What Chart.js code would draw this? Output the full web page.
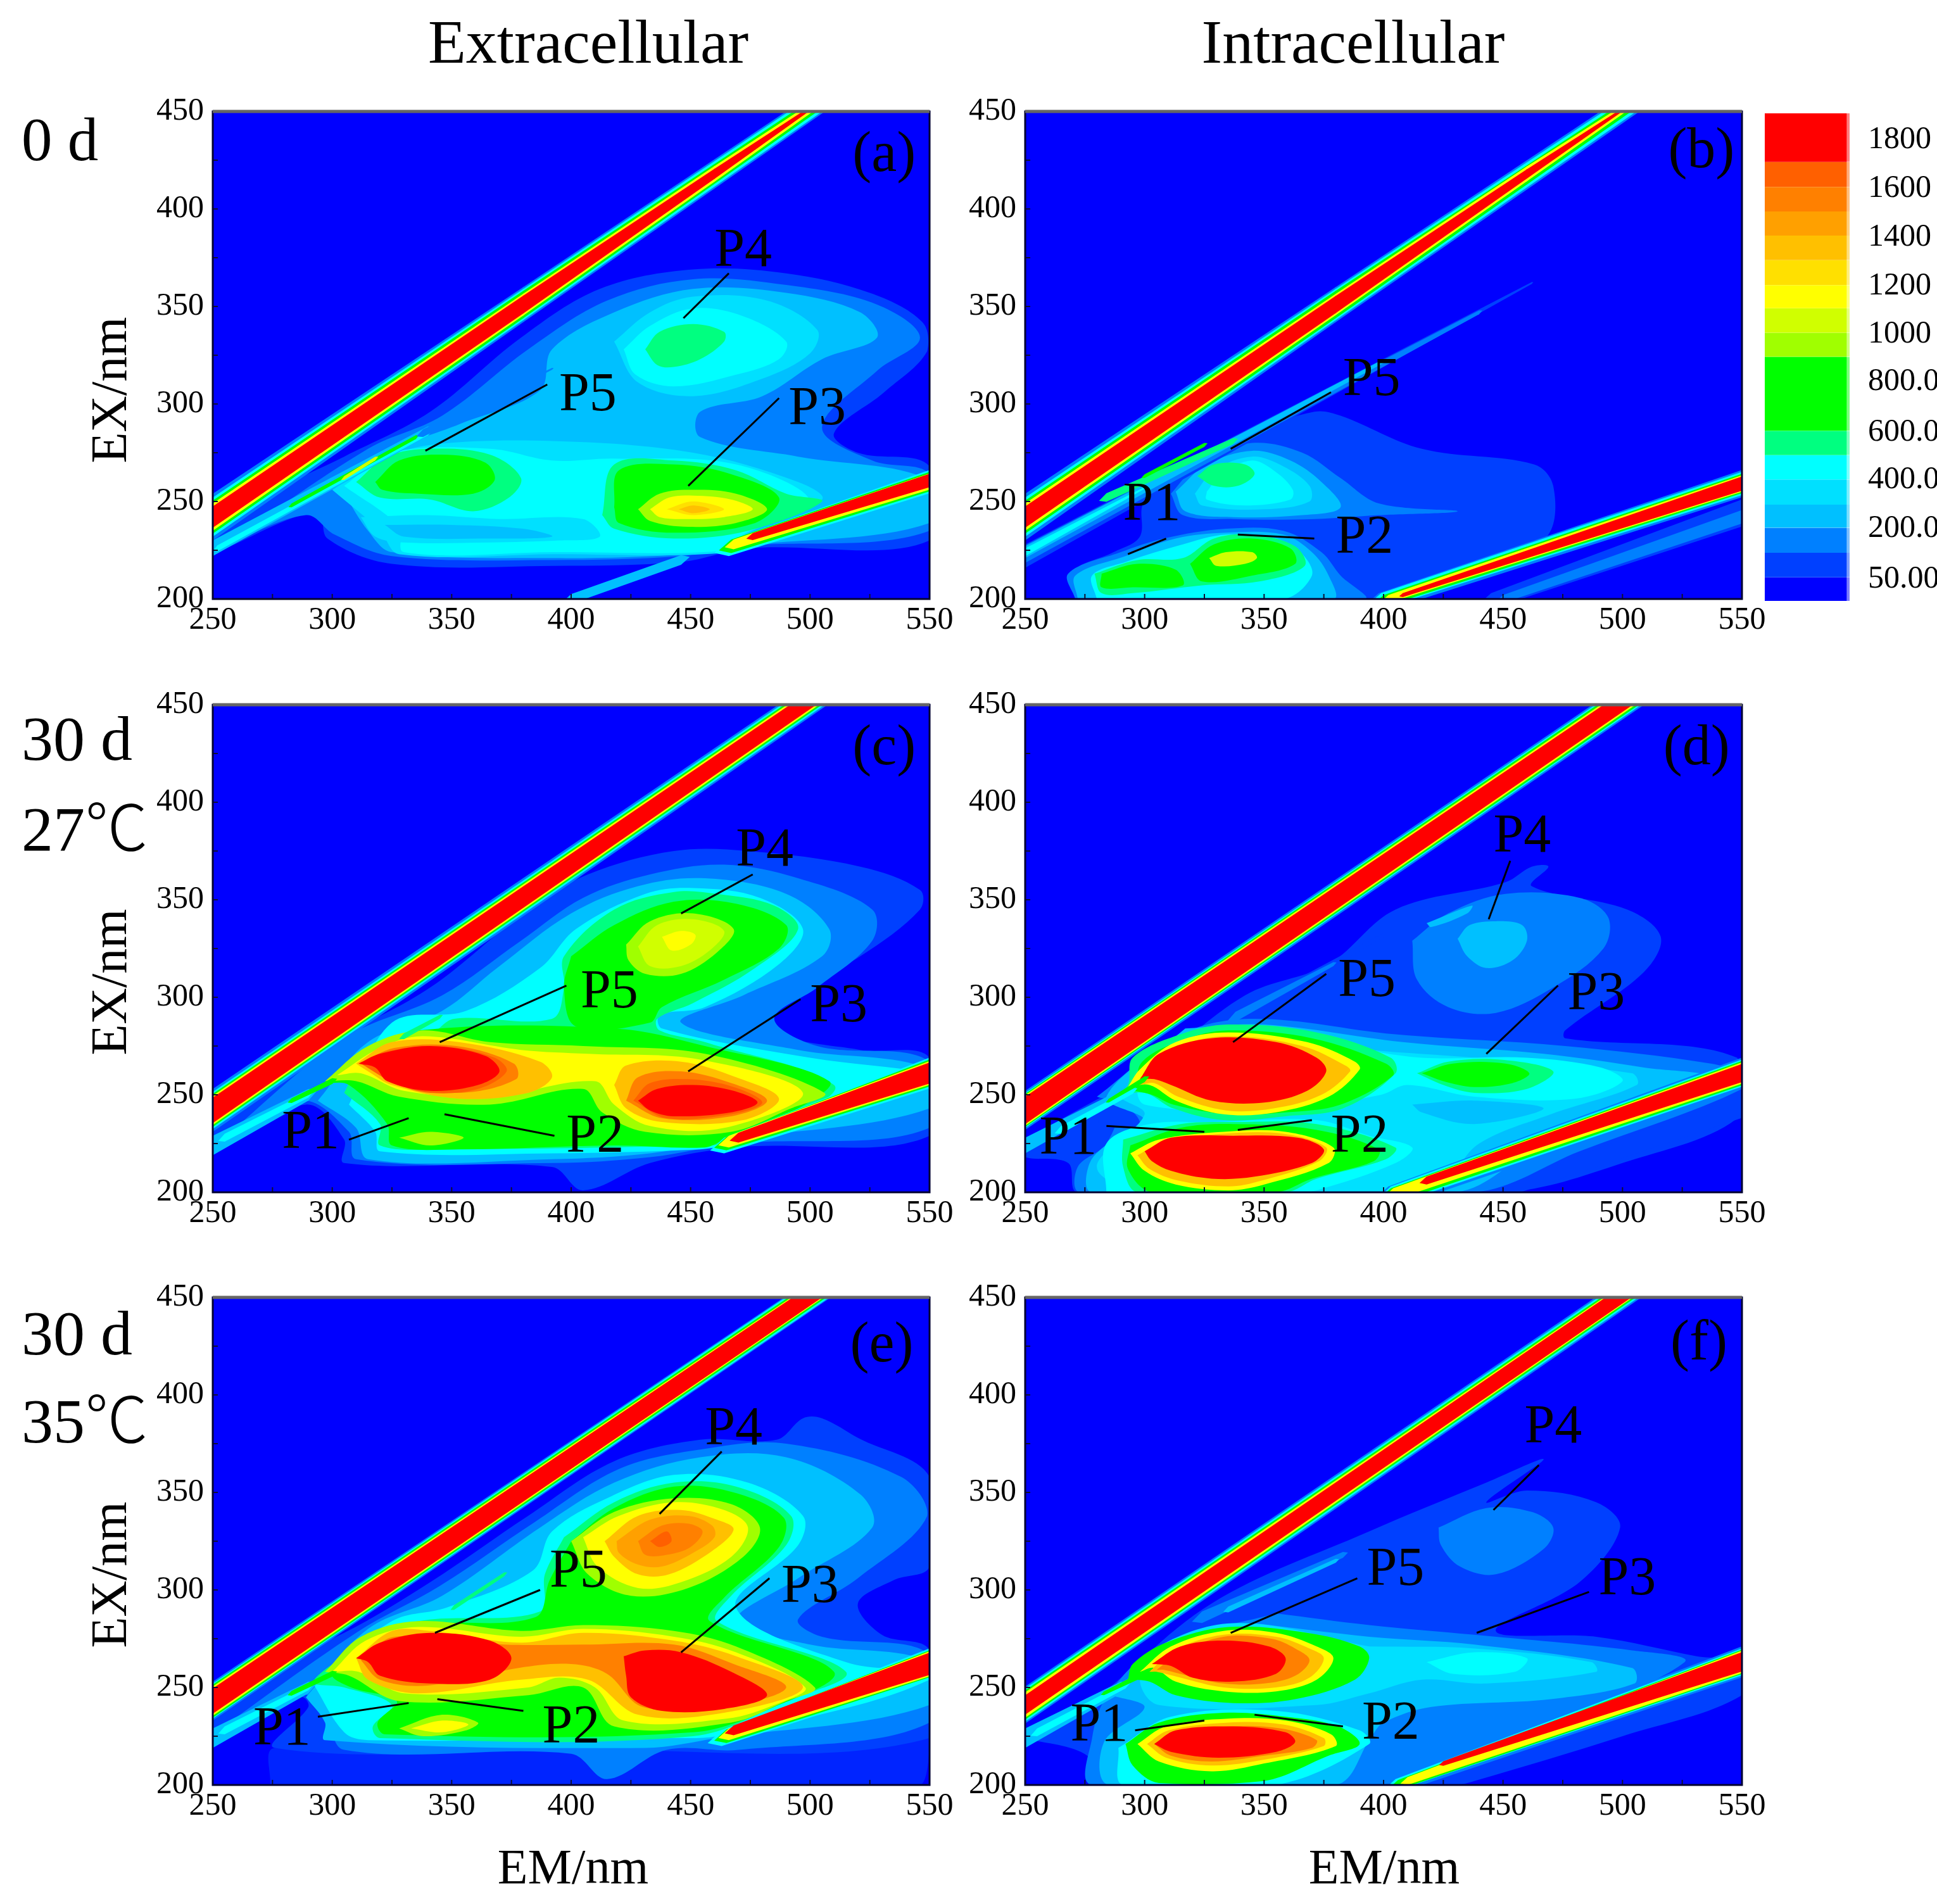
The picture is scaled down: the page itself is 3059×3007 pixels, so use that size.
<!DOCTYPE html>
<html><head><meta charset="utf-8">
<style>
html,body{margin:0;padding:0;background:#fff}
body{position:relative;width:3059px;height:3007px;overflow:hidden;font-family:"Liberation Serif",serif;color:#000}
canvas{position:absolute}
.t{position:absolute;white-space:nowrap;line-height:1}
.t span{font-family:"Noto Sans CJK SC",sans-serif;font-weight:300}
</style>
<script src="https://cdn.jsdelivr.net/npm/chart.js@4"></script>
</head><body>
<script>
// level colours, lowest (index 0) to highest (index 16); index 17 is the streaky 0-50 zone
const levelColors=['#0000ff','#0040ff','#0080ff','#00c0ff','#00e0ff','#00ffff','#00ff80','#00ff00','#a0ff00','#d0ff00','#ffff00','#ffe000','#ffc000','#ffa000','#ff8000','#ff6000','#ff0000','#0024ff'];
const axisTicksEM=[250,300,350,400,450,500,550];
const axisTicksEX=[200,250,300,350,400,450];

// colour bar
const colorbarColors=['#ff0000','#ff6000','#ff8000','#ffa000','#ffc000','#ffe000','#ffff00','#d0ff00','#a0ff00','#00ff00','#00ff80','#00ffff','#00e0ff','#00c0ff','#0080ff','#0040ff','#0000ff'];
const colorbarEdges=[1910,1710,1607,1506,1407,1306,1203,1108,1007,908,603,503,403,299,204,101,0,-97];
const colorbarTickPositions=[1800,1600,1400,1200,1000,804,596,400,200,-7];
const colorbarTickLabels=['1800','1600','1400','1200','1000','800.0','600.0','400.0','200.0','50.00'];

// contour bands: [level, em,ex, em,ex, ...], painted in order
const contoursA=[
[1,250,223,294,245,298,231,325,218,392,217,446,219,474,226,550,230,550,268,520,275,510,285,531,306,549,327,547,342,525,357,490,367,451,369,412,359,379,334,341,296,305,273,250,239],
[2,253,226,289,243,301,233,325,222,392,220,446,222,469,227,550,235,550,264,526,271,505,288,528,317,546,334,528,351,490,361,451,364,415,353,382,328,346,294,315,277],
[3,305,254,315,235,325,224,392,221,449,223,469,227,550,239,550,261,495,273,454,283,454,296,480,304,505,323,528,334,521,347,490,357,451,359,418,347,392,328,387,307,354,290,320,273],
[4,300,256,320,235,328,223,392,223,467,224,473,233,505,251,495,260,451,275,392,281,341,279,320,271],
[5,305,258,328,237,330,224,392,224,467,225,472,233,500,250,469,269,418,272,392,271,366,277,325,275],
[4,312,242,340,243,370,241,405,241,412,232,395,230,366,229,330,229,318,232],
[3,322,238,350,238,380,236,392,232,366,231,330,232],
[6,310,260,323,273,341,277,366,274,379,262,374,252,359,245,341,251,320,252],
[7,318,260,328,271,346,274,364,270,368,261,359,254,336,254,321,256],
[6,413,243,418,269,443,271,469,266,490,254,505,250,474,235,443,231,418,236],
[7,418,247,420,266,443,269,467,264,487,252,477,239,443,234,420,239],
[8,428,246,437,254,451,256,469,254,482,246,469,239,449,237,433,240],
[10,433,246,441,252,451,253,467,251,476,246,464,242,449,241,437,242],
[11,440,246,451,250,464,246,451,243],
[12,445,246,451,248,458,246,451,244],
[4,418,332,433,347,451,355,482,353,503,338,500,326,480,313,451,304,428,311],
[5,422,328,433,340,451,349,472,345,490,332,487,323,469,315,443,309,427,315],
[6,431,328,437,337,451,341,464,337,464,332,454,323,443,319,436,320]
];
const stripesA=[
[3,250,226,340,286,4,2.5],[5,252,226,340,285,1.5,1],[7,283,248,335,283,1,1],[9,305,262,318,272,1,1],[2,338,285,392,318,2,.5],[3,400,200,446,220,2.5,2.5],
[2,250,242,380,351,12,9],[2,380,351,515,464,9,6.5],[5,250,242,380,351,10,8],[5,380,351,515,464,8,5.5],[7,250,242,380,351,8.5,7],[7,380,351,515,464,7,3.8],
[10,250,242,380,351,7,5.6],[10,380,351,460,418,5.6,4],[10,460,418,515,464,4,2],[16,250,242,380,351,5.5,4.6],[16,380,351,460,418,4.6,2.6],[16,460,418,515,464,2.6,.4],
[5,466,226,552,261,4,6],[7,467,227,552,261,3.5,5],[10,468,228,552,261,2.5,4.2],[16,476,232,552,261.5,1.8,3.5]
];
const labelsA=[['P4',472,378],['P5',407,304],['P3',503,297]];
const leadersA=[[466,367,447,344],[390,310,339,276],[487,303,449,258]];

const contoursB=[
[1,271,200,270,214,287,224,298,232,300,250,324,268,345,285,371,296,382,294,416,277,463,269,471,258,469,233,450,222,420,205,405,200],
[2,311,254,324,271,345,280,366,275,382,262,398,249,431,245,398,243,371,241,337,241,316,243],
[3,313,255,326,269,345,276,361,271,374,260,382,247,366,243,337,242,317,245],
[4,321,254,329,266,345,273,358,268,369,258,369,250,350,246,324,248],
[5,326,255,332,264,345,271,355,265,362,256,361,251,342,248,326,251],
[6,322,263,329,269,342,269,346,264,339,258,329,258],
[2,271,200,268,213,290,224,308,231,334,236,358,235,374,224,382,212,392,200],
[3,272,200,271,212,292,222,313,231,334,234,358,233,370,224,377,212,379,200],
[5,280,200,278,212,292,219,316,228,334,233,355,231,366,223,370,212,358,200],
[6,279,213,297,220,316,221,329,231,345,233,363,227,367,217,348,209,324,207,295,203,282,203],
[7,282,213,297,218,313,215,316,207,295,206,282,206],
[7,319,218,329,228,345,231,361,226,363,218,345,212,324,209],
[9,327,221,334,224,345,224,347,221,342,218,330,217]
];
const stripesB=[
[1,250,222,462,362,6,.5],[2,250,223,440,347,4.5,1],[3,250,224,400,322,3,1],[5,250,224,300,257,2,.5],[6,284,252,337,281,2.2,1.5],[7,300,263,325,279,1,1],
[1,445,199,552,245,4,7],[2,450,200,552,243,2,3.5],
[2,250,242,380,351,12,9],[2,380,351,516,464,9,6.5],[5,250,242,380,351,10,8],[5,380,351,516,464,8,5.3],[7,250,242,380,351,8.5,7],[7,380,351,516,464,7,3.5],
[10,250,242,380,351,7,5.5],[10,380,351,460,418,5.5,3.8],[10,460,418,516,464,3.8,1.6],[16,250,242,380,351,5.5,4.4],[16,380,351,460,418,4.4,2.4],[16,460,418,516,464,2.4,.2],
[2,398,198,552,260,5,7],[5,399,199,552,260,4,6],[7,400,199,552,260,3,5],[10,402,200,552,260,2,4.3],[16,408,202,552,260,1,3.7]
];
const labelsB=[['P5',395,312],['P1',303,248],['P2',392,231]];
const leadersB=[[378,306,336,277],[309,231,293,223],[371,231,339,233]];

const contoursC=[
[1,250,221,289,245,305,227,305,215,392,213,405,201,433,215,469,223,550,229,550,269,521,273,485,283,492,301,521,321,546,345,546,355,521,367,474,375,443,375,407,363,382,345,341,305,305,281,250,245],
[2,250,223,287,247,307,231,310,217,392,215,433,218,469,225,550,233,550,267,503,275,485,289,503,305,526,329,526,345,495,361,464,368,433,363,405,351,379,329,346,301,305,279],
[3,294,247,310,233,315,217,392,217,433,220,467,227,550,243,550,263,495,273,446,287,472,301,505,321,508,335,490,353,456,361,428,357,400,343,369,315,346,293,315,277],
[5,307,245,318,231,320,221,392,220,454,222,464,224,495,233,550,257,550,261,500,269,438,284,437,291,456,295,487,317,497,335,479,351,451,356,431,353,402,335,387,315,356,293,325,287],
[6,305,251,320,235,320,224,346,222,454,224,464,225,495,239,510,255,456,277,437,283,436,289,451,297,477,315,495,335,485,347,461,353,443,354,418,345,397,321,397,305,392,289,351,289,341,281,315,273],
[7,400,321,418,337,443,349,469,348,490,337,487,325,464,309,438,295,433,287,402,285,397,305],
[7,297,256,315,271,336,283,418,284,456,275,508,257,495,243,464,227,456,223,418,224,353,222,325,224,323,235,307,255],
[8,423,327,433,339,451,343,468,335,461,323,446,312,431,312,424,319],
[9,428,326,436,337,451,340,464,334,458,324,446,316,433,316],
[10,438,331,446,334,452,332,450,327,442,324],
[8,328,228,341,231,355,228,341,224],
[8,297,257,315,275,338,283,366,277,405,275,456,271,506,251,492,243,467,231,431,231,413,241,405,253,366,245,328,249,310,257],
[10,302,260,320,274,338,280,379,273,407,271,454,268,497,251,464,233,433,234,418,245,410,257,366,249,330,252,312,261],
[12,310,266,325,277,353,277,387,267,392,259,382,251,353,248,325,255,315,262],
[12,418,255,423,265,446,267,469,259,487,248,472,237,438,236,423,243],
[14,312,266,326,274,352,275,376,266,377,258,354,251,328,256],
[15,312,266,322,272,345,275,368,269,373,262,361,253,341,251,326,256],
[14,423,247,428,259,446,262,467,256,482,247,467,239,438,238],
[15,426,247,433,256,449,258,468,254,480,246,467,240,440,238],
[16,311,266,320,271,341,275,364,270,370,262,361,255,341,252,323,257,318,264],
[16,428,247,436,253,451,255,468,252,478,246,467,241,443,239,433,242]
];
const stripesC=[
[3,250,224,290,250,5,3],[5,255,228,290,250,2,1.5],[7,283,247,300,257,1.2,1.5],[6,330,280,345,290,1.5,1],
[2,250,242,515,465,11,8.5],[5,250,242,515,465,9.5,7.5],[7,250,242,515,465,8.5,6.5],[10,250,242,515,465,7.5,5.5],[16,250,242,515,465,6.5,4.5],
[5,464,224,552,262,4,8],[7,465,225,552,262,3.5,7],[10,466,226,552,262,3,6.2],[16,470,228,552,262,2.5,5.5]
];
const labelsC=[['P4',481,375],['P5',416,302],['P3',512,295],['P1',291,230],['P2',410,228]];
const leadersC=[[476,363,446,343],[398,306,345,277],[496,299,449,262],[332,238,307,227],[393,229,347,240]];

const contoursD=[
[1,250,222,258,232,300,262,342,301,377,317,405,345,451,359,462,367,469,367,462,357,502,345,516,331,509,313,476,283,476,279,548,269,550,240,500,215,450,200,272,200,268,215,250,218],
[2,412,329,427,343,451,353,482,351,494,341,492,325,471,305,447,292,427,295,414,309],
[3,431,330,436,337,447,339,458,337,460,329,454,319,443,315,435,321],
[3,418,338,437,347,435,343,420,336],
[2,280,249,315,281,346,289,405,281,476,275,537,266,548,261,550,253,482,221,438,200,273,200,272,213,284,225,289,245],
[1,282,244,293,243,298,235,289,233,281,235],
[3,317,284,350,286,408,277,467,271,509,264,537,258,467,225,430,200,278,200,277,215,287,227,300,237,284,249],
[4,328,281,394,273,438,269,504,261,506,255,470,240,440,225,425,206,400,200,300,200,280,213,300,240,290,250],
[3,412,245,438,247,467,243,438,235,416,241],
[5,337,284,383,275,416,269,460,269,491,264,500,257,480,248,438,249,410,255,399,250,370,245,300,245,300,265],
[5,284,200,284,225,302,235,328,236,372,237,394,229,412,223,405,215,372,201,363,200,290,200],
[6,291,227,315,235,337,236,372,235,405,223,401,217,372,207,359,200,297,200,291,213],
[7,294,224,315,233,337,235,372,232,398,222,396,216,370,207,355,200,303,200,293,212],
[10,294,220,306,227,333,231,359,231,379,223,377,215,350,204,335,201,313,204,300,211],
[12,297,219,308,226,333,230,358,230,376,223,373,216,349,206,335,203,314,206,302,212],
[16,300,221,311,228,337,229,364,228,375,222,370,215,346,208,328,207,311,211,303,216],
[6,287,249,293,255,295,269,315,281,335,286,372,282,403,269,405,261,383,243,359,239,333,237,312,243,300,251],
[7,296,252,299,267,316,278,335,283,370,279,401,266,404,260,382,245,359,241,335,240,312,245,303,250],
[10,293,254,298,263,313,277,335,282,368,277,388,267,390,263,377,249,355,241,333,240,313,247,302,255],
[12,298,255,302,262,315,275,335,280,366,275,384,265,386,262,374,250,354,243,334,242,314,249,304,256],
[16,298,258,306,271,328,279,355,277,372,269,376,262,368,252,350,246,328,247,311,255,304,258],
[6,414,261,427,267,449,268,471,262,460,253,438,251,425,255],
[7,416,261,429,266,451,266,461,261,454,256,438,254,425,257]
];
const stripesD=[
[3,250,224,290,250,4,2.5],[5,265,232,295,252,2,1.5],[7,285,247,300,258,1,1.5],[1,345,294,400,332,3,1],[2,338,290,379,317,2.5,1],
[2,250,242,515,464,10,9],[5,250,242,515,464,9,8],[7,250,242,515,464,8.5,7.2],[10,250,242,515,464,7.8,6],[16,250,242,515,464,7,5],
[1,450,200,552,246,3,7],
[2,402,197,552,262,6,8],[5,403,198,552,262,5,7],[7,403,198,552,262,4,6.3],[10,404,199,552,262,3,5.5],[16,418,206,552,262,2,4.7]
];
const labelsD=[['P4',458,382],['P5',393,308],['P3',489,301],['P1',268,227],['P2',390,228]];
const leadersD=[[453,370,444,340],[376,312,337,277],[473,306,443,271],[284,234,325,231],[370,237,339,232]];

const contoursE=[
[17,274,200,546,200,550,224,276,219],
[1,250,223,287,245,290,240,276,219,400,218,550,224,550,269,530,277,520,293,535,305,550,312,550,358,520,378,505,388,497,388,486,377,454,377,418,366,382,338,341,304,305,278,250,247],
[2,250,226,285,247,297,238,305,218,400,216,415,203,440,218,470,218,550,232,550,267,505,276,495,285,520,306,549,338,538,358,490,375,454,372,420,362,385,335,345,302,310,278],
[3,289,245,297,232,297,223,431,219,461,224,550,241,550,263,500,272,469,284,495,306,526,332,521,349,490,368,454,368,418,355,387,332,346,297,315,280],
[5,292,252,305,227,315,223,443,224,461,225,520,241,550,254,550,258,515,263,469,291,495,323,497,338,474,355,443,359,415,347,392,330,384,310,348,291,325,284],
[6,397,327,418,345,443,355,469,353,492,338,490,323,467,297,461,284,515,258,490,243,451,225,320,224,317,230,325,241,305,250,292,253,315,273,336,284,387,289,389,308],
[7,400,325,418,342,443,353,468,350,489,337,487,322,464,296,458,284,510,258,485,240,451,227,322,226,319,232,327,243,308,250,300,257,318,272,338,282,385,286,391,305],
[8,400,325,418,340,443,347,467,344,479,332,472,317,449,301,425,297,407,308],
[10,405,327,420,338,443,345,464,341,474,332,467,317,446,304,428,301,411,312],
[12,414,325,428,338,446,341,461,336,468,331,459,320,441,308,428,308,418,317],
[13,419,325,433,336,449,338,459,333,460,327,451,319,438,312,428,313,420,319],
[14,428,325,438,333,449,334,455,330,450,322,440,318,431,318],
[15,433,325,440,330,442,325,437,322],
[8,297,258,312,276,336,284,379,279,405,282,443,279,469,271,502,250,490,243,467,232,418,230,405,250,382,246,328,243,307,256],
[10,300,258,314,274,336,281,379,276,405,280,443,276,469,268,498,250,487,242,465,234,422,233,410,250,395,255,382,250,330,247,311,258],
[12,310,265,325,279,341,279,379,273,405,278,443,274,469,266,497,250,464,237,428,236,407,254,379,254,336,247,315,254],
[14,312,264,326,276,372,272,405,272,443,272,468,262,490,250,464,240,430,240,415,257,400,262,378,260,340,251,320,254],
[16,310,265,320,273,341,278,366,274,375,265,366,254,341,252,320,256,315,263],
[16,422,266,431,269,446,268,467,258,482,246,464,239,438,238,425,245,423,256],
[8,328,229,346,236,361,232,356,228,338,225],
[10,333,229,346,233,357,231,346,227]
];
const stripesE=[
[3,250,224,290,250,5,3],[5,255,228,290,250,2,1.5],[7,283,247,300,257,1.2,1.5],[6,351,291,372,308,1.2,1],
[2,250,243,517,465,10,8],[5,250,243,517,465,9,7.5],[7,250,243,517,465,8.5,6.5],[10,250,243,517,465,7.5,5.5],[16,250,243,517,465,6.5,5],
[5,463,224,552,263,4,8],[7,465,225,552,263,3.5,7],[10,466,226,552,263,3,6.5],[16,468,228,552,263,2.5,5.8]
];
const labelsE=[['P4',468,382],['P5',403,309],['P3',500,301],['P1',279,228],['P2',400,229]];
const leadersE=[[463,371,437,339],[387,300,343,278],[483,306,446,268],[332,242,294,235],[380,238,344,244]];

const contoursF=[
[1,250,224,275,240,328,293,394,330,443,355,467,367,443,345,460,351,489,345,499,332,482,304,447,279,489,276,531,266,550,262,550,246,500,225,438,202,430,200,278,200,276,215],
[2,423,332,443,342,462,340,471,332,467,321,447,308,432,312,424,323],
[2,355,288,394,282,438,277,504,269,526,263,460,226,416,204,407,200,278,200,278,224,284,245,306,271],
[3,345,283,394,276,438,272,504,260,505,252,470,244,420,240,400,232,395,225,380,200,285,200,283,222,300,240,285,248],
[4,394,271,438,270,487,263,489,258,443,252,416,254,394,247,372,241,306,241,298,254,306,271,339,283],
[5,418,263,438,268,460,265,455,258,429,257],
[5,289,219,311,235,355,238,390,228,394,221,355,200,291,200],
[7,292,221,306,232,333,237,359,235,381,230,390,221,377,215,350,202,306,201,295,210],
[10,297,221,309,230,335,234,359,233,378,226,380,220,350,211,328,207,306,212],
[12,301,221,310,228,335,232,358,231,375,224,375,220,350,213,328,210,309,214],
[14,304,221,312,226,335,230,357,229,372,223,370,219,350,215,328,212,311,215],
[16,304,221,313,228,337,230,359,227,363,222,355,217,331,214,311,217],
[7,293,254,295,262,309,273,335,281,368,278,390,271,394,265,388,254,363,244,337,242,313,246,302,253],
[10,298,258,311,271,333,279,355,278,372,271,379,265,372,254,355,248,333,248,313,253,304,260],
[12,302,258,312,269,333,277,355,276,369,270,375,265,369,255,355,250,333,250,315,255,305,258],
[14,305,259,315,268,333,276,353,275,363,270,369,264,363,256,350,252,333,252,318,256,308,259],
[16,303,262,315,271,333,274,352,271,359,265,355,257,337,253,320,255,311,261]
];
const stripesF=[
[3,250,224,290,250,5,3],[5,255,227,292,251,2,1.5],[7,283,247,298,256,1,1.5],[2,324,286,383,318,3,1.5],[3,335,290,380,315,1.5,1],
[2,250,241,515,464,9.5,8],[5,250,241,515,464,8.5,7],[7,250,241,515,464,7.5,6],[10,250,241,515,464,6.5,5],[16,250,241,515,464,5,4.5],
[2,404,199,552,264,4,8],[5,405,200,552,264,3,7],[7,406,200,552,264,2.5,6.3],[10,410,202,552,264,2,5.8],[16,425,211,552,264,1.2,5]
];
const labelsF=[['P4',471,383],['P5',405,310],['P3',502,305],['P1',281,230],['P2',403,231]];
const leadersF=[[465,364,446,341],[389,306,336,278],[486,299,439,278],[325,233,296,228],[383,230,346,236]];

const panels=[
 {letter:'(a)',letterAt:[531,427],left:336, top:176, contours:contoursA,stripes:stripesA,labels:labelsA,leaders:leadersA},
 {letter:'(b)',letterAt:[533,429],left:1619,top:176, contours:contoursB,stripes:stripesB,labels:labelsB,leaders:leadersB},
 {letter:'(c)',letterAt:[531,427],left:336, top:1113,contours:contoursC,stripes:stripesC,labels:labelsC,leaders:leadersC},
 {letter:'(d)',letterAt:[531,427],left:1619,top:1113,contours:contoursD,stripes:stripesD,labels:labelsD,leaders:leadersD},
 {letter:'(e)',letterAt:[530,425],left:336, top:2049,contours:contoursE,stripes:stripesE,labels:labelsE,leaders:leadersE},
 {letter:'(f)',letterAt:[532,426],left:1619,top:2049,contours:contoursF,stripes:stripesF,labels:labelsF,leaders:leadersF}
];
const pageTexts=[
 ['Extracellular',929,104,98,'c'],['Intracellular',2137,104,98,'c'],
 ['0 d',34,258,97,'l'],['30 d',34,1206,100,'l'],['27','℃',34,1339,100,'l'],['30 d',34,2145,100,'l'],['35','℃',34,2274,100,'l'],
 ['EM/nm',905,2978,78,'c'],['EM/nm',2186,2978,78,'c']
];
const yTitles=[616,1551,2487];

const SERIF='"Liberation Serif","Times New Roman",serif';
const PW=1132,PH=770,ML=110,MR=60,MT=30,MB=70;

function polygon(level,flat,tension){
  const pts=[];
  for(let i=0;i<flat.length;i+=2)pts.push({x:flat[i],y:flat[i+1]});
  pts.push({x:flat[0],y:flat[1]});
  return {data:pts,fill:'shape',showLine:true,backgroundColor:levelColors[level],borderWidth:0,pointRadius:0,tension};
}
function stripe(s){
  const [lv,x0,y0,x1,y1,h0,h1]=s;
  const dx=x1-x0,dy=y1-y0,n=Math.hypot(dx,dy),ux=dx/n,uy=dy/n;
  return polygon(lv,[x0-ux*h0*1.6,y0-uy*h0*1.6,x0,y0-h0,x1,y1-h1,x1+ux*h1*1.6,y1+uy*h1*1.6,x1,y1+h1,x0,y0+h0],0);
}
const marksPlugin={
  id:'marks',
  beforeDatasetsDraw(c){
    const a=c.chartArea,ctx=c.ctx;
    ctx.save();ctx.fillStyle=levelColors[0];ctx.fillRect(a.left,a.top,a.width,a.height);ctx.restore();
  },
  afterDatasetsDraw(c,args,o){
    if(!o.panel)return;
    const a=c.chartArea,ctx=c.ctx,X=c.scales.x,Y=c.scales.y,p=o.panel;
    ctx.save();
    ctx.strokeStyle='#101030';ctx.lineWidth=2;
    ctx.beginPath();
    for(let v=275;v<550;v+=25){const px=X.getPixelForValue(v);ctx.moveTo(px,a.bottom);ctx.lineTo(px,a.bottom-8);}
    for(let v=225;v<450;v+=25){const py=Y.getPixelForValue(v);ctx.moveTo(a.left,py);ctx.lineTo(a.left+8,py);}
    ctx.stroke();
    ctx.strokeStyle='#000030';ctx.lineWidth=3;
    ctx.strokeRect(a.left,a.top,a.width,a.height);
    ctx.strokeStyle='#666';ctx.lineWidth=5;
    ctx.beginPath();ctx.moveTo(a.left,a.top);ctx.lineTo(a.right,a.top);ctx.stroke();
    ctx.fillStyle='#000';ctx.textAlign='center';ctx.textBaseline='middle';
    ctx.font='86px '+SERIF;
    p.labels.forEach(l=>ctx.fillText(l[0],X.getPixelForValue(l[1]),Y.getPixelForValue(l[2])));
    ctx.font='90px '+SERIF;
    ctx.fillText(p.letter,X.getPixelForValue(p.letterAt[0]),Y.getPixelForValue(p.letterAt[1]));
    ctx.restore();
  }
};
function place(cv,x,y,w,h){cv.width=w;cv.height=h;cv.style.left=x+'px';cv.style.top=y+'px';cv.style.width=w+'px';cv.style.height=h+'px';document.body.appendChild(cv);return cv.getContext('2d');}
const tickFont={family:SERIF,size:50};
panels.forEach(p=>{
  const ds=[];
  p.contours.forEach(c=>ds.push(polygon(c[0],c.slice(1),0.35)));
  p.stripes.forEach(s=>ds.push(stripe(s)));
  p.leaders.forEach(l=>ds.push({data:[{x:l[0],y:l[1]},{x:l[2],y:l[3]}],showLine:true,fill:false,borderColor:'#000',borderWidth:3,pointRadius:0,tension:0}));
  ds.forEach((d,i)=>d.order=ds.length-i);
  const ctx=place(document.createElement('canvas'),p.left-ML,p.top-MT,PW+ML+MR,PH+MT+MB);
  new Chart(ctx,{type:'scatter',data:{datasets:ds},plugins:[marksPlugin],options:{
    responsive:false,animation:false,devicePixelRatio:1,
    layout:{padding:{top:MT,right:MR,left:0,bottom:0}},
    plugins:{legend:{display:false},tooltip:{enabled:false},marks:{panel:p}},
    scales:{
      x:{type:'linear',min:250,max:550,afterBuildTicks:s=>{s.ticks=axisTicksEM.map(v=>({value:v}));},afterFit:s=>{s.height=MB;s.paddingLeft=0;s.paddingRight=0;},
         grid:{display:false},border:{display:false},ticks:{font:tickFont,color:'#000',padding:-4,maxRotation:0,autoSkip:false}},
      y:{type:'linear',min:200,max:450,afterBuildTicks:s=>{s.ticks=axisTicksEX.map(v=>({value:v}));},afterFit:s=>{s.width=ML;s.paddingTop=0;s.paddingBottom=0;},
         grid:{display:false},border:{display:false},ticks:{font:tickFont,color:'#000',padding:6,autoSkip:false}}
    }}});
});
// colour bar
(function(){
  const ds=colorbarColors.map((col,i)=>({data:[[colorbarEdges[i+1],colorbarEdges[i]]],backgroundColor:col,borderColor:col+'80',borderWidth:{right:5,left:0,top:0,bottom:0},borderSkipped:false,grouped:false,barPercentage:1,categoryPercentage:1}));
  const W=3059-2787,H=PH+MT+MB;
  const ctx=place(document.createElement('canvas'),2787,179-MT,W,H);
  new Chart(ctx,{type:'bar',data:{labels:['level'],datasets:ds},options:{
    responsive:false,animation:false,devicePixelRatio:1,
    layout:{padding:{top:MT,bottom:MB,left:0,right:0}},
    plugins:{legend:{display:false},tooltip:{enabled:false}},
    scales:{
      x:{display:false},
      y:{position:'right',min:colorbarEdges[colorbarEdges.length-1],max:colorbarEdges[0],
         afterBuildTicks:s=>{s.ticks=colorbarTickPositions.map(v=>({value:v}));},
         afterFit:s=>{s.width=W-134;s.paddingTop=0;s.paddingBottom=0;},
         grid:{display:false},border:{display:false},
         ticks:{font:tickFont,color:'#000',padding:21,autoSkip:false,callback:(v)=>colorbarTickLabels[colorbarTickPositions.indexOf(v)]}}
    }}});
})();
// page text
function addText(t){
  const mixed=t.length===6;
  const [s,sym,x,base,size,al]=mixed?t:[t[0],'',t[1],t[2],t[3],t[4]];
  const d=document.createElement('div');d.className='t';d.textContent=s;
  if(sym){const sp=document.createElement('span');sp.textContent=sym;d.appendChild(sp);}
  d.style.fontSize=size+'px';d.style.left=x+'px';
  d.style.top=(base-size*0.891)+'px';d.style.fontFamily=SERIF;
  if(al==='c')d.style.transform='translateX(-50%)';
  document.body.appendChild(d);
}
pageTexts.forEach(addText);
yTitles.forEach(y=>{
  const d=document.createElement('div');d.className='t';d.textContent='EX/nm';
  d.style.fontSize='80px';d.style.left='172px';d.style.top=y+'px';
  d.style.transform='translate(-50%,-50%) rotate(-90deg)';
  document.body.appendChild(d);
});
</script>
</body></html>
